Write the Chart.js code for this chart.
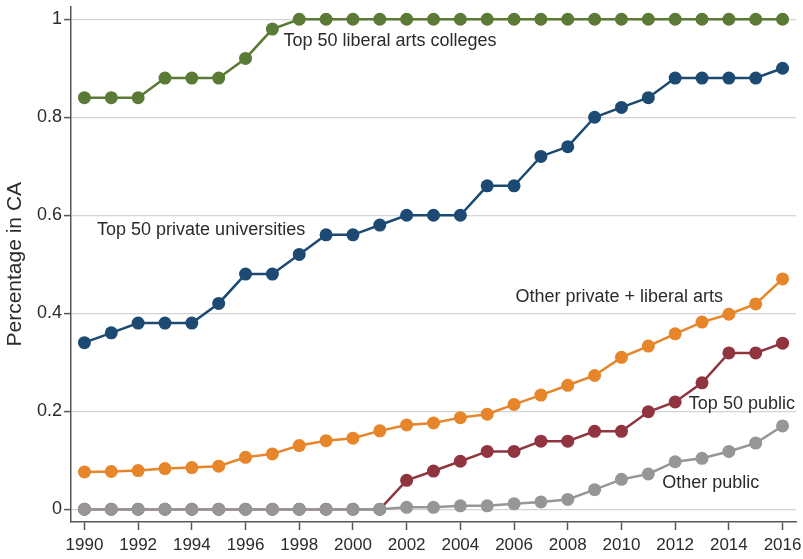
<!DOCTYPE html>
<html>
<head>
<meta charset="utf-8">
<script src="https://cdn.jsdelivr.net/npm/chart.js@4.4.0/dist/chart.umd.min.js"></script>
<style>
  html, body { margin: 0; padding: 0; background: #fff; }
  #chart { display: block; }
</style>
</head>
<body>
<canvas id="chart" width="803" height="559"></canvas>
<script>
// years on the x axis
var years = [1990,1991,1992,1993,1994,1995,1996,1997,1998,1999,2000,2001,2002,2003,2004,2005,2006,2007,2008,2009,2010,2011,2012,2013,2014,2015,2016];
var xTicks = [1990,1992,1994,1996,1998,2000,2002,2004,2006,2008,2010,2012,2014,2016];
var yTicks = [0, 0.2, 0.4, 0.6, 0.8, 1];

// series values (share in CA)
var liberalArts   = [0.84,0.84,0.84,0.88,0.88,0.88,0.92,0.98,1,1,1,1,1,1,1,1,1,1,1,1,1,1,1,1,1,1,1];
var privateUniv   = [0.34,0.36,0.38,0.38,0.38,0.42,0.48,0.48,0.52,0.56,0.56,0.58,0.60,0.60,0.60,0.66,0.66,0.72,0.74,0.80,0.82,0.84,0.88,0.88,0.88,0.88,0.90];
var otherPrivate  = [0.076,0.077,0.079,0.083,0.085,0.088,0.106,0.113,0.130,0.140,0.145,0.160,0.172,0.176,0.187,0.194,0.214,0.233,0.253,0.273,0.310,0.333,0.358,0.382,0.398,0.419,0.470];
var top50Public   = [0,0,0,0,0,0,0,0,0,0,0,0,0.059,0.078,0.098,0.118,0.118,0.139,0.139,0.159,0.159,0.199,0.219,0.258,0.319,0.319,0.339];
var otherPublic   = [0,0,0,0,0,0,0,0,0,0,0,0,0.004,0.004,0.007,0.007,0.011,0.015,0.020,0.040,0.061,0.072,0.097,0.104,0.118,0.135,0.170];

var seriesNames = ["Top 50 liberal arts colleges","Top 50 private universities","Other private + liberal arts","Top 50 public","Other public"];

function pts(vals) {
  return vals.map(function (v, i) { return {x: years[i], y: v}; });
}

// label text placed at data coordinates (left edge, vertical middle)
var labelSpots = [
  {text: seriesNames[0], x: 1997.41, y: 0.955},
  {text: seriesNames[1], x: 1990.47, y: 0.570},
  {text: seriesNames[2], x: 2006.05, y: 0.434},
  {text: seriesNames[3], x: 2012.51, y: 0.214},
  {text: seriesNames[4], x: 2011.52, y: 0.053}
];

var seriesLabels = {
  id: 'seriesLabels',
  afterDatasetsDraw: function (chart) {
    var ctx = chart.ctx;
    var xs = chart.scales.x, ys = chart.scales.y;
    ctx.save();
    ctx.font = '18px "Liberation Sans", Arial, sans-serif';
    ctx.fillStyle = '#2b2b2b';
    ctx.textAlign = 'left';
    ctx.textBaseline = 'middle';
    labelSpots.forEach(function (l) {
      ctx.fillText(l.text, xs.getPixelForValue(l.x), ys.getPixelForValue(l.y));
    });
    ctx.restore();
  }
};

function line(label, vals, color) {
  return {
    label: label,
    data: pts(vals),
    borderColor: color,
    backgroundColor: color,
    pointBackgroundColor: color,
    pointBorderWidth: 0,
    pointRadius: 6.5,
    borderWidth: 2.5,
    tension: 0
  };
}

var fontTick = {family: '"Liberation Sans", Arial, sans-serif', size: 17};
var fontTitle = {family: '"Liberation Sans", Arial, sans-serif', size: 21};

// first dataset ends up on top
new Chart(document.getElementById('chart').getContext('2d'), {
  type: 'line',
  data: {
    datasets: [
      line(seriesNames[4], otherPublic, '#969696'),
      line(seriesNames[3], top50Public, '#903440'),
      line(seriesNames[2], otherPrivate, '#e6852a'),
      line(seriesNames[1], privateUniv, '#1c4a73'),
      line(seriesNames[0], liberalArts, '#5b7a36')
    ]
  },
  options: {
    responsive: false,
    animation: false,
    layout: {padding: {top: 3, right: 7, left: 0, bottom: 0}},
    plugins: {legend: {display: false}, tooltip: {enabled: false}},
    scales: {
      x: {
        type: 'linear',
        min: 1989.5,
        max: 2016.5,
        afterBuildTicks: function (s) { s.ticks = xTicks.map(function (v) { return {value: v}; }); },
        afterFit: function (s) { s.height = 37; s.paddingLeft = 0; s.paddingRight = 0; },
        grid: {drawOnChartArea: false, tickLength: 8, tickColor: '#555', tickWidth: 1.5},
        border: {color: '#555', width: 1.5},
        ticks: {font: fontTick, color: '#2b2b2b', padding: 5, maxRotation: 0, autoSkip: false,
                callback: function (v) { return String(v); }}
      },
      y: {
        min: -0.026,
        max: 1.026,
        afterBuildTicks: function (s) { s.ticks = yTicks.map(function (v) { return {value: v}; }); },
        afterFit: function (s) { s.width = 71; s.paddingTop = 0; s.paddingBottom = 0; },
        grid: {color: '#d4d4d4', lineWidth: 1.2, tickLength: 7, tickColor: '#555', tickWidth: 1.5},
        border: {color: '#555', width: 1.5},
        ticks: {font: {family: fontTick.family, size: 18}, color: '#2b2b2b', padding: 2, autoSkip: false,
                callback: function (v) { return String(Math.round(v * 10) / 10); }},
        title: {display: true, text: 'Percentage in CA', font: fontTitle, color: '#2b2b2b', padding: {top: 3, bottom: 0}}
      }
    }
  },
  plugins: [seriesLabels]
});
</script>
</body>
</html>
